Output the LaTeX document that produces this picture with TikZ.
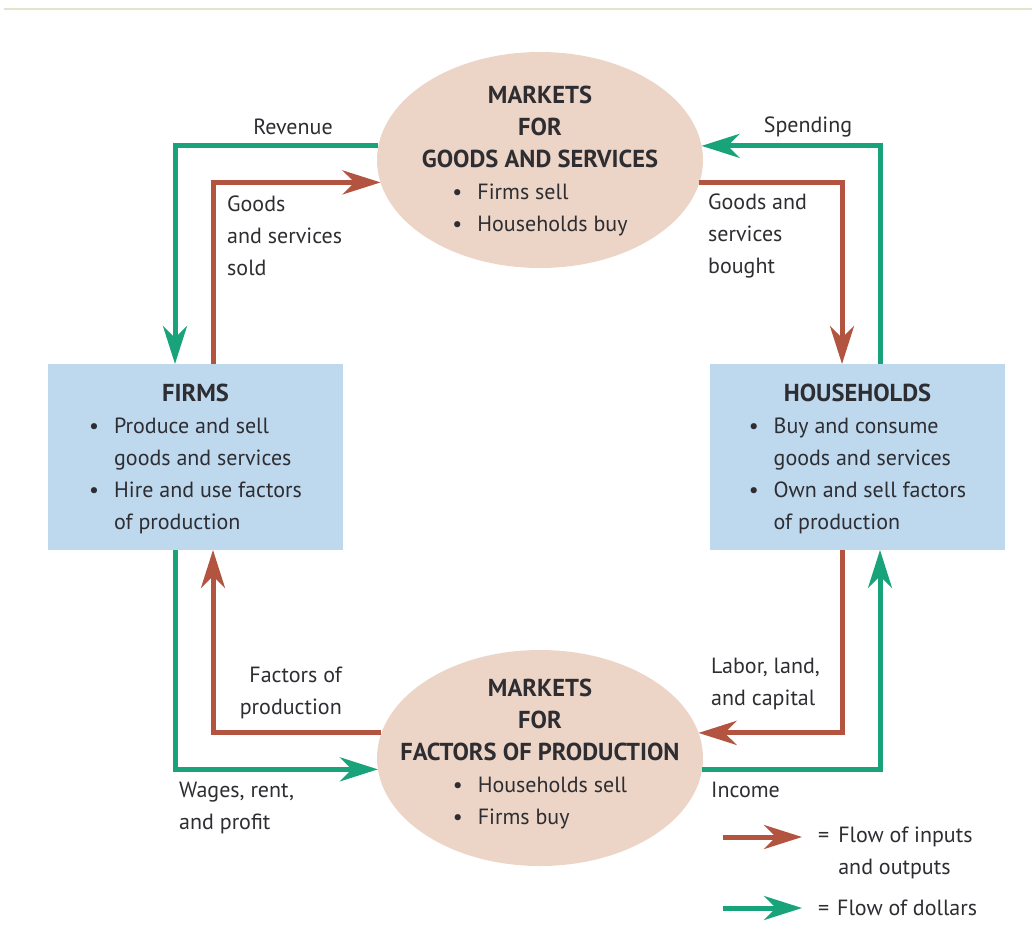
\documentclass[tikz,border=0pt]{standalone}
\usepackage{fontspec}
\setmainfont{PT Sans}
\usetikzlibrary{arrows.meta,shapes.geometric}
\definecolor{dollargreen}{RGB}{24,163,122}
\definecolor{flowred}{RGB}{178,84,64}
\definecolor{marketfill}{RGB}{236,212,198}
\definecolor{sectorfill}{RGB}{190,216,238}
\definecolor{textgray}{RGB}{45,45,50}
\definecolor{rulegray}{RGB}{228,228,205}
\newcommand{\bulletlist}[1]{\begin{tabular}[t]{@{}l@{\hspace{15pt}}l@{}}#1\end{tabular}}
\newcommand{\itm}{\textbullet &}
\newcommand{\heading}[1]{{\fontsize{24.5}{32}\selectfont\bfseries #1}}
\begin{document}
\begin{tikzpicture}[x=1pt,y=-1pt,
  every node/.style={text=textgray,font=\fontsize{22}{32}\selectfont},
  market/.style={ellipse,fill=marketfill,minimum width=326pt,minimum height=216pt,inner sep=0pt,outer sep=0pt},
  sector/.style={rectangle,fill=sectorfill,minimum width=295pt,minimum height=186pt,inner sep=0pt,outer sep=0pt},
  io/.style={draw=flowred,line width=5pt,-{Stealth[length=38pt,width=24pt,inset=12pt]}},
  dollars/.style={draw=dollargreen,line width=5pt,-{Stealth[length=38pt,width=24pt,inset=12pt]}},
  lbl/.style={inner sep=0pt}]
\useasboundingbox (0,0) rectangle (1032,951);
\draw[rulegray,line width=1.5pt] (4,9) -- (1032,9);

\node[market] (goods) at (540,160) {};
\node[align=center,inner sep=0pt] (goodstext) at ([yshift=-4pt]goods) {\heading{MARKETS}\\\heading{FOR}\\\heading{GOODS AND SERVICES}\\\bulletlist{\itm Firms sell\\\itm Households buy}};
\node[market] (factors) at (540,758) {};
\node[align=center,inner sep=0pt] (factorstext) at ([yshift=1pt]factors) {\heading{MARKETS}\\\heading{FOR}\\\heading{FACTORS OF PRODUCTION}\\\bulletlist{\itm Households sell\\\itm Firms buy}};
\node[sector] (firms) at (195.5,457) {};
\node[align=center,inner sep=0pt] (firmstext) at ([yshift=-5pt]firms) {\heading{FIRMS}\\\bulletlist{\itm Produce and sell\\& goods and services\\\itm Hire and use factors\\& of production}};
\node[sector] (households) at (857.5,457) {};
\node[align=center,inner sep=0pt] (householdstext) at ([yshift=-5pt]households) {\heading{HOUSEHOLDS}\\\bulletlist{\itm Buy and consume\\& goods and services\\\itm Own and sell factors\\& of production}};

\draw[dollars] (goods.175) -| ([xshift=-20.5pt]firms.north);
\draw[io] ([xshift=17.5pt]firms.north) |- (goods.188);
\draw[dollars] ([xshift=22.5pt]households.north) |- (goods.5);
\draw[io] (goods.352) -| ([xshift=-15.5pt]households.north);
\draw[io] (factors.171) -| ([xshift=17.5pt]firms.south);
\draw[dollars] ([xshift=-20.5pt]firms.south) |- (factors.184);
\draw[io] ([xshift=-15.5pt]households.south) |- (factors.9);
\draw[dollars] (factors.356) -| ([xshift=22.5pt]households.south);

\node[lbl] (revenue) at (293,127) {Revenue};
\node[lbl] (spending) at (808,127) {Spending};
\node[lbl,anchor=west,align=left] (sold) at (227,236) {Goods\\and services\\sold};
\node[lbl,anchor=west,align=left] (bought) at (708,236) {Goods and\\services\\bought};
\node[lbl,anchor=east,align=right] (inputs) at (342,693) {Factors of\\production};
\node[lbl,anchor=west,align=left] (labor) at (711,684) {Labor, land,\\and capital};
\node[lbl,anchor=west,align=left] (wages) at (179,808) {Wages, rent,\\and profit};
\node[lbl,anchor=west] (income) at (711,790) {Income};

\coordinate (keyiostart) at (723,837);
\coordinate (keyioend) at (802,837);
\coordinate (keydollarstart) at (723,908);
\coordinate (keydollarend) at (802,908);
\draw[io] (keyiostart) -- (keyioend);
\draw[dollars] (keydollarstart) -- (keydollarend);
\node[lbl,anchor=west] (keyio) at (818,852) {\begin{tabular}[t]{@{}l@{\hspace{9pt}}l@{}}= & Flow of inputs\\ & and outputs\end{tabular}};
\node[lbl,anchor=west] (keydollar) at (818,908) {= \hspace{2pt}Flow of dollars};
\end{tikzpicture}
\end{document}
